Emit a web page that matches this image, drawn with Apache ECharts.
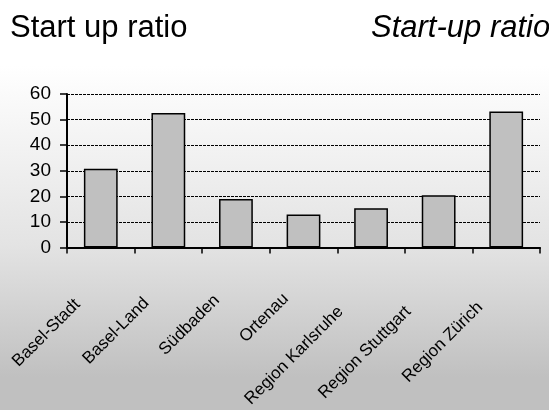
<!DOCTYPE html>
<html>
<head>
<meta charset="utf-8">
<style>
  html, body { margin: 0; padding: 0; background: #fff; }
  #chart { width: 549px; height: 410px; }
</style>
<script src="https://cdn.jsdelivr.net/npm/echarts@6/dist/echarts.min.js"></script>
</head>
<body>
<div id="chart"></div>
<script>
// Start-up ratio per region
const categories = ['Basel-Stadt', 'Basel-Land', 'Südbaden', 'Ortenau',
                    'Region Karlsruhe', 'Region Stuttgart', 'Region Zürich'];
const values = [30.8, 52.6, 19.0, 12.9, 15.4, 20.4, 53.2];
const yTicks = [0, 10, 20, 30, 40, 50, 60];

const FONT = '"Liberation Sans", Arial, sans-serif';

// Longer rotated labels sit a little further down-left of their tick
const rich = {};
categories.forEach((c, i) => {
  rich['c' + i] = {
    fontFamily: FONT, fontSize: 17, color: '#000',
    padding: [0, Math.round(c.length * 2 + 11), 0, 0]
  };
});

const chart = echarts.init(document.getElementById('chart'), null, { renderer: 'canvas' });

chart.setOption({
  animation: false,
  backgroundColor: {
    type: 'linear', x: 0, y: 0, x2: 0, y2: 1,
    colorStops: [
      { offset: 0.0, color: '#ffffff' },
      { offset: 0.16, color: '#ffffff' },
      { offset: 0.6, color: '#e3e3e3' },
      { offset: 0.92, color: '#c0c0c0' },
      { offset: 1.0, color: '#c0c0c0' }
    ]
  },
  title: [
    { text: 'Start up ratio', left: 5, top: 8,
      textStyle: { fontFamily: FONT, fontSize: 31, fontWeight: 'normal', color: '#000' } },
    { text: 'Start-up ratio', left: 366, top: 8,
      textStyle: { fontFamily: FONT, fontSize: 31, fontWeight: 'normal', fontStyle: 'italic', color: '#000' } }
  ],
  grid: { left: 67, right: 9, top: 94, bottom: 159, containLabel: false },
  xAxis: {
    type: 'category',
    data: categories,
    boundaryGap: true,
    axisLine: { lineStyle: { color: '#000', width: 2 } },
    axisTick: { show: true, length: 6, alignWithLabel: false, lineStyle: { color: '#000', width: 1.5 } },
    axisLabel: {
      interval: 0,
      rotate: 45,
      margin: 31,
      formatter: (v, i) => '{c' + i + '|' + v + '}',
      rich: rich
    }
  },
  yAxis: {
    type: 'value',
    min: yTicks[0],
    max: yTicks[yTicks.length - 1],
    interval: 10,
    axisLine: { show: true, lineStyle: { color: '#000', width: 2 } },
    axisTick: { show: true, length: 7, lineStyle: { color: '#000', width: 1.5 } },
    axisLabel: { margin: 16, fontFamily: FONT, fontSize: 19, color: '#000' },
    splitLine: { show: true, lineStyle: { color: '#000', width: 1, type: [3, 1] } }
  },
  series: [{
    type: 'bar',
    data: values,
    barWidth: '50%',
    itemStyle: { color: '#c0c0c0', borderColor: '#000', borderWidth: 1.5 }
  }]
});
</script>
</body>
</html>
